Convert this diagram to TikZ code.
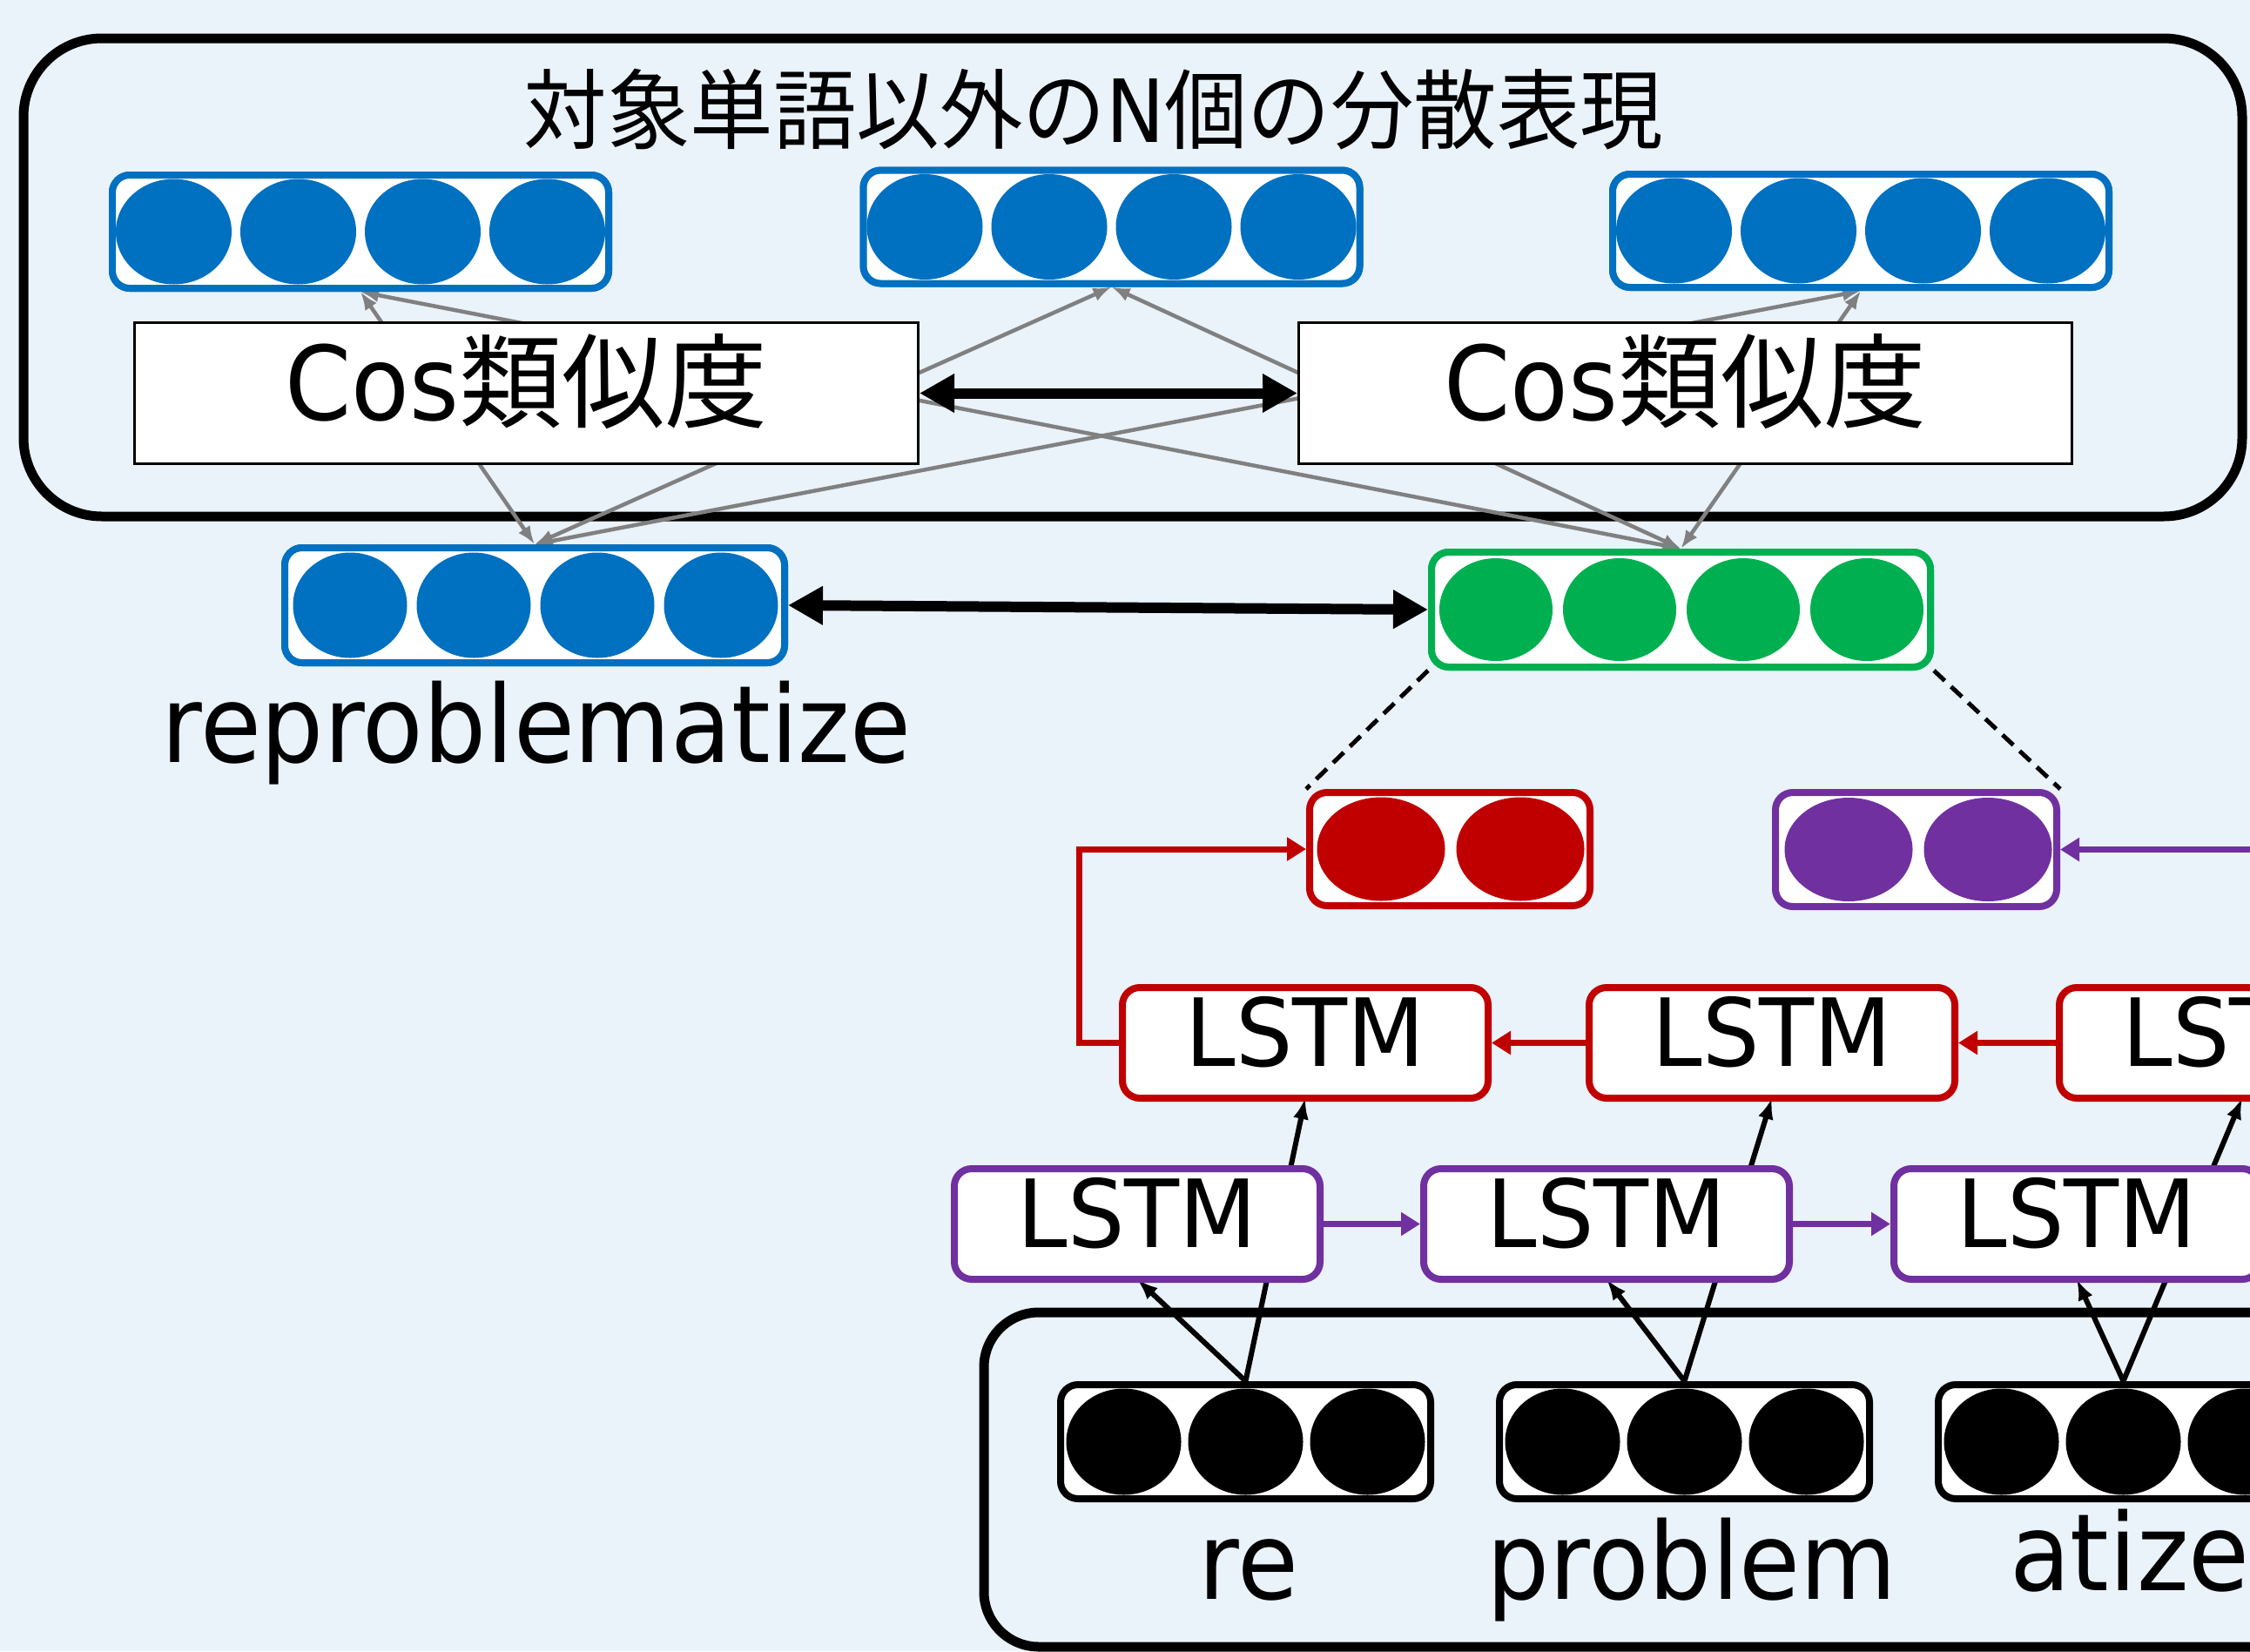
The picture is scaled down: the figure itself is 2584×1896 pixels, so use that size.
\documentclass[tikz,border=0pt]{standalone}
\usepackage{fontspec}
\setmainfont{DejaVu Sans}[FakeStretch=0.925]
\newfontfamily\lstmfont{DejaVu Sans}[FakeStretch=0.955]
\newfontfamily\cjk{Noto Sans CJK JP}
\newfontfamily\cjktitle{Noto Sans CJK JP}[FakeStretch=0.955]
\newfontfamily\lattitle{DejaVu Sans}[FakeStretch=0.9]
\usetikzlibrary{arrows.meta,shapes.geometric}
\definecolor{bgc}{HTML}{EAF2FA}
\definecolor{vblue}{HTML}{0070C0}
\definecolor{vgreen}{HTML}{00B050}
\definecolor{vred}{HTML}{C00000}
\definecolor{vpurple}{HTML}{7030A0}
\definecolor{lgray}{HTML}{808080}
\tikzset{
  vbox/.style={draw=#1, line width=8pt, fill=white, rounded corners=20pt, inner sep=0pt},
  dot/.style={ellipse, fill=#1, inner sep=0pt},
  lstmbox/.style={draw=#1, line width=8pt, fill=white, rounded corners=20pt, inner sep=0pt,
    minimum width=420pt, minimum height=127pt, text height=80pt, text depth=27pt,
    font=\fontsize{108}{110}\lstmfont},
  cosbox/.style={draw=black, line width=3pt, fill=white, inner sep=0pt, minimum height=162pt,
    text height=100pt, text depth=39pt, font=\fontsize{118}{120}\selectfont},
  gline/.style={draw=lgray, line width=4.5pt, {Latex[length=21pt,width=16pt]}-{Latex[length=21pt,width=16pt]}},
  bigarrow/.style={draw=black, line width=12pt, {Triangle[length=40pt,width=42pt]}-{Triangle[length=40pt,width=42pt]}},
  karrow/.style={draw=black, line width=6pt, -{Latex[length=24pt,width=18pt]}},
  rarrow/.style={draw=vred, line width=7pt, -{Triangle[length=22pt,width=26pt]}},
  parrow/.style={draw=vpurple, line width=7pt, -{Triangle[length=22pt,width=26pt]}},
  dline/.style={draw=black, line width=5pt, dash pattern=on 17pt off 10pt},
  frame/.style={draw=black, line width=11pt},
  wordlbl/.style={anchor=base, inner sep=0pt, font=\fontsize{123}{125}\selectfont},
}
% name, cx, cy, w, h, colour, offsets, ellipse w, ellipse h
\newcommand\myvec[9]{%
  \node[vbox=#6, minimum width=#4pt, minimum height=#5pt] (#1) at (#2,#3) {};
  \foreach \o [count=\k] in {#7}
    \node[dot=#6, minimum width=#8pt, minimum height=#9pt] (#1d\k) at ({#2+(\o)},#3) {};
}
\begin{document}
\begin{tikzpicture}[x=1pt,y=-1pt]
\useasboundingbox (0,0) rectangle (2584,1896);
\fill[bgc] (0,0) rectangle (2584,1896);
\begin{scope}
\clip (0,0) rectangle (2584,1896);

% frames
\draw[frame, rounded corners=90pt] (27,44) rectangle (2575,593);
\draw[frame, rounded corners=63pt] (1130,1507) rectangle (2800,1891);

% title
\node[anchor=base, inner sep=0pt] (title) at (1256,163)
  {\fontsize{100}{104}\selectfont\cjktitle 対象単語以外の{\lattitle N}個の分散表現};

% vector boxes (first pass: anchors for the gray lines)
\myvec{v1}{414}{266}{570}{130}{vblue}{-214.5,-71.5,71.5,214.5}{133}{121}
\myvec{v2}{1276.5}{260.5}{570}{130}{vblue}{-214.5,-71.5,71.5,214.5}{133}{121}
\myvec{v3}{2137}{265}{570}{130}{vblue}{-214.5,-71.5,71.5,214.5}{133}{121}
\myvec{r}{614}{695}{574}{132}{vblue}{-212,-70,72,214}{131}{121}
\myvec{g}{1930.5}{700}{573}{132}{vgreen}{-212.5,-70.5,71.5,213.5}{130}{118}

% gray connections (behind the Cos boxes)
\draw[gline] (v1.south) -- (r.north);
\draw[gline] (v2.south) -- (r.north);
\draw[gline] (v3.south) -- (r.north);
\draw[gline] (v1.south) -- (g.north);
\draw[gline] (v2.south) -- (g.north);
\draw[gline] (v3.south) -- (g.north);

% vector boxes again, on top of the lines
\myvec{v1}{414}{266}{570}{130}{vblue}{-214.5,-71.5,71.5,214.5}{133}{121}
\myvec{v2}{1276.5}{260.5}{570}{130}{vblue}{-214.5,-71.5,71.5,214.5}{133}{121}
\myvec{v3}{2137}{265}{570}{130}{vblue}{-214.5,-71.5,71.5,214.5}{133}{121}
\myvec{r}{614}{695}{574}{132}{vblue}{-212,-70,72,214}{131}{121}
\myvec{g}{1930.5}{700}{573}{132}{vgreen}{-212.5,-70.5,71.5,213.5}{130}{118}

% Cos boxes
\node[cosbox, minimum width=900pt] (c1) at (604.5,451.5) {Cos{\cjk 類似度}};
\node[cosbox, minimum width=888pt] (c2) at (1935.5,451.5) {Cos{\cjk 類似度}};
\draw[bigarrow] (c1.east) -- (c2.west);

% main comparison arrow
\draw[bigarrow] (r.east) -- (g.west);

\node[wordlbl] (rlbl) at (616,875) {reproblematize};

% red / purple halves
\myvec{rd}{1665}{975}{322}{130}{vred}{-79,81}{147}{119}
\myvec{pp}{2200.5}{975.5}{323}{131}{vpurple}{-77.5,82.5}{147}{119}
\draw[dline] (g.south west) -- (rd.north west);
\draw[dline] (g.south east) -- (pp.north east);

% word vectors
\myvec{w1}{1430.5}{1655.5}{425}{131}{black}{-140,0,140}{132}{122}
\myvec{w2}{1934.5}{1655.5}{425}{131}{black}{-140,0,140}{132}{122}
\myvec{w3}{2438.5}{1655.5}{425}{131}{black}{-140,0,140}{132}{122}

% arrow end points at the LSTM boxes
\coordinate (l1s) at (1499,1261);
\coordinate (l2s) at (2035,1261);
\coordinate (l3s) at (2575,1261);
\coordinate (b1s) at (1306,1469);
\coordinate (b2s) at (1845,1469);
\coordinate (b3s) at (2385,1469);
\draw[karrow] (w1.north) -- (l1s);
\draw[karrow] (w2.north) -- (l2s);
\draw[karrow] (w3.north) -- (l3s);
\draw[karrow] (w1.north) -- (b1s);
\draw[karrow] (w2.north) -- (b2s);
\draw[karrow] (w3.north) -- (b3s);

% LSTM boxes
\node[lstmbox=vred] (l1) at (1499,1197.5) {LSTM};
\node[lstmbox=vred] (l2) at (2035,1197.5) {LSTM};
\node[lstmbox=vred] (l3) at (2575,1197.5) {LSTM};
\node[lstmbox=vpurple] (b1) at (1306,1405.5) {LSTM};
\node[lstmbox=vpurple] (b2) at (1845,1405.5) {LSTM};
\node[lstmbox=vpurple] (b3) at (2385,1405.5) {LSTM};

\draw[rarrow] (l2.west) -- (l1.east);
\draw[rarrow] (l3.west) -- (l2.east);
\draw[rarrow] (l1.west) -- ++(-46,0) |- (rd.west);
\draw[parrow] (b1.east) -- (b2.west);
\draw[parrow] (b2.east) -- (b3.west);
\coordinate (pin) at (2700,975.5);
\draw[parrow] (pin) -- (pp.east);

% word labels
\node[wordlbl] (lre) at (1434,1836) {re};
\node[wordlbl] (lprob) at (1943,1836) {problem};
\node[wordlbl] (latize) at (2446,1826) {atize};
\end{scope}
\end{tikzpicture}
\end{document}
